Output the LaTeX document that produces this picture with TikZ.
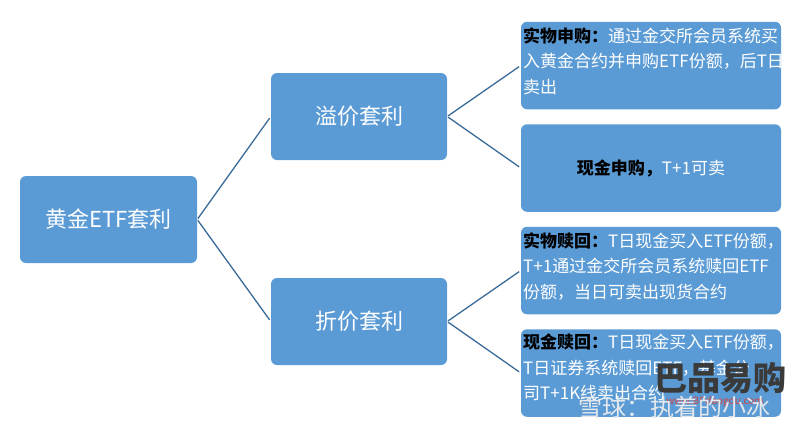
\documentclass[tikz,border=0pt]{standalone}
\usepackage{fontspec}
\setmainfont{Noto Sans CJK SC}
\newfontfamily\latinf{Noto Sans CJK SC}
\definecolor{boxblue}{HTML}{5B9BD5}
\definecolor{linkblue}{HTML}{3A6A98}
\definecolor{wmgray}{HTML}{3A3A3A}
\definecolor{wmred}{HTML}{D9433F}
\definecolor{wmwhite}{HTML}{E4E8EC}
\tikzset{
  x=1pt,y=-1pt,
  rootbox/.style={draw=none,fill=boxblue,rounded corners=6pt,minimum width=177pt,minimum height=87pt,inner sep=0pt,text=white,font=\fontsize{22}{26}\selectfont},
  leafbox/.style={draw=none,fill=boxblue,rounded corners=6pt,minimum width=260pt,minimum height=87.5pt,inner sep=0pt},
  leaftext/.style={anchor=north west,inner sep=0pt,text=white,align=left,font=\fontsize{17}{25.5}\selectfont},
  link/.style={draw=linkblue,line width=1.3pt,shorten >=2pt,shorten <=1pt},
}
\newcommand{\kw}[1]{\textbf{\textcolor{black}{#1}}}
\begin{document}
\begin{tikzpicture}
\useasboundingbox (0,0) rectangle (800,432);
\node[rootbox] (root) at (108.5,219.5) {黄金ETF套利};
\node[rootbox,minimum width=176pt] (prem) at (359,116.5) {溢价套利};
\node[rootbox,minimum width=176pt] (disc) at (359,321.5) {折价套利};
\node[leafbox] (a) at (651,65.5) {};
\node[leafbox] (b) at (651,168) {};
\node[leafbox] (c) at (651,270.5) {};
\node[leafbox] (d) at (651,373) {};
\node[leaftext] (at) at (523,27) {\kw{实物申购：}通过金交所会员系统买\\入黄金合约并申购ETF份额，后T日\\卖出};
\node[text=white,inner sep=0pt,font=\fontsize{17}{25.5}\selectfont] (bt) at (651,168) {\kw{现金申购，}T+1可卖};
\node[leaftext] (ct) at (523,232) {\kw{实物赎回：}T日现金买入ETF份额，\\T+1通过金交所会员系统赎回ETF\\份额，当日可卖出现货合约};
\node[leaftext] (dt) at (523,334) {\kw{现金赎回：}T日现金买入ETF份额，\\T日证券系统赎回ETF，基金公\\司T+1K线卖出合约};
\draw[link] (root.east) -- (prem.west);
\draw[link] (root.east) -- (disc.west);
\draw[link] (prem.east) -- (a.west);
\draw[link] (prem.east) -- (b.west);
\draw[link] (disc.east) -- (c.west);
\draw[link] (disc.east) -- (d.west);
\node[inner sep=0pt,text=wmgray,font=\fontsize{33}{36}\selectfont\bfseries] (wm1) at (720,378) {巴品易购};
\node[inner sep=0pt,text=wmred,font=\fontsize{10}{12}\selectfont] (wm2) at (715,402) {www.BPdaogou.com};
\node[inner sep=0pt,text=wmwhite,font=\fontsize{24}{28}\selectfont] (wm3) at (674,407) {雪球：执着的小冰};
\end{tikzpicture}
\end{document}
